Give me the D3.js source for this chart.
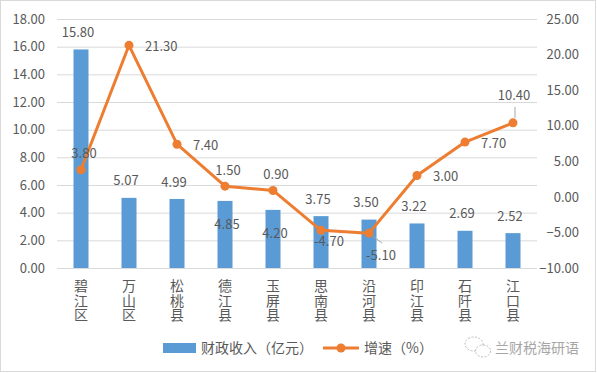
<!DOCTYPE html>
<html>
<head>
<meta charset="utf-8">
<script src="https://cdn.jsdelivr.net/npm/d3@7"></script>
<style>
  body { margin: 0; background: #fff; }
  svg { display: block; font-family: "Noto Sans CJK SC", "Noto Sans", sans-serif; }
</style>
</head>
<body>
<svg id="canvas"></svg>
<script>
//--chart data
const counties = ["碧江区", "万山区", "松桃县", "德江县", "玉屏县", "思南县", "沿河县", "印江县", "石阡县", "江口县"];
const revenue = [15.80, 5.07, 4.99, 4.85, 4.20, 3.75, 3.50, 3.22, 2.69, 2.52];
const growth = [3.80, 21.30, 7.40, 1.50, 0.90, -4.70, -5.10, 3.00, 7.70, 10.40];
const leftTicks = [0, 2, 4, 6, 8, 10, 12, 14, 16, 18];
const rightTicks = [-10, -5, 0, 5, 10, 15, 20, 25];
// where each data label sits
const barLabelPos = ["top", "top", "top", "inside", "inside", "top", "top", "top", "top", "top"];
const lineLabelPos = ["above", "right", "right", "above", "above", "below", "belowRight", "right", "right", "high"];
//--

//--canvas
let width = 597;
let height = 373;
let margin = {top: 19, left: 57, right: 60, bottom: 105};

let canvas = d3.select("#canvas")
canvas.attr("width", width)
canvas.attr("height", height)

const textColor = "#595959";
const barColor = "#5B9BD5";
const lineColor = "#ED7D31";
const gridColor = "#d9d9d9";
//--

let drawChart = () => {
    let x = d3.scaleBand()
                .domain(counties)
                .range([margin.left, width - margin.right]);
    let yLeft = d3.scaleLinear()
                .domain([0, 18])
                .range([height - margin.bottom, margin.top]);
    let yRight = d3.scaleLinear()
                .domain([-10, 25])
                .range([height - margin.bottom, margin.top]);

    //--outer frame
    canvas.append('rect')
            .attr('x', 0.5).attr('y', 0.5)
            .attr('width', width - 2).attr('height', height - 2)
            .attr('fill', 'none')
            .attr('stroke', gridColor);

    //--gridlines + left axis
    let gLeft = canvas.append('g')
            .attr('transform', `translate(${margin.left},0)`)
            .call(d3.axisLeft(yLeft)
                    .tickValues(leftTicks)
                    .tickFormat(d3.format('.2f'))
                    .tickSize(-(width - margin.left - margin.right))
                    .tickPadding(12));
    gLeft.select('.domain').remove();
    gLeft.selectAll('line').attr('stroke', gridColor);
    gLeft.selectAll('text')
            .attr('fill', textColor)
            .attr('font-size', 13)
            .attr('font-family', '"Noto Sans CJK SC", sans-serif');

    //--right axis
    let gRight = canvas.append('g')
            .attr('transform', `translate(${width - margin.right},0)`)
            .call(d3.axisRight(yRight)
                    .tickValues(rightTicks)
                    .tickFormat(d3.format('.2f'))
                    .tickSize(0)
                    .tickPadding(42));
    gRight.select('.domain').remove();
    gRight.selectAll('text')
            .attr('fill', textColor)
            .attr('font-size', 13)
            .attr('text-anchor', 'end')
            .attr('font-family', '"Noto Sans CJK SC", sans-serif');

    //--bars
    let barW = 15;
    canvas.selectAll('rect.bar')
            .data(revenue)
            .enter()
            .append('rect')
            .attr('class', 'bar')
            .attr('x', (d, i) => x(counties[i]) + x.bandwidth() / 2 - barW / 2)
            .attr('width', barW)
            .attr('y', d => yLeft(d))
            .attr('height', d => yLeft(0) - yLeft(d))
            .attr('fill', barColor);

    //--bar labels
    canvas.selectAll('text.barlabel')
            .data(revenue)
            .enter()
            .append('text')
            .attr('class', 'barlabel')
            .attr('x', (d, i) => x(counties[i]) + x.bandwidth() / 2 + (barLabelPos[i] == 'inside' ? 2 : -3))
            .attr('y', (d, i) => barLabelPos[i] == 'inside' ? yLeft(d) + 24 : yLeft(d) - 17)
            .attr('dy', '0.35em')
            .attr('text-anchor', 'middle')
            .attr('fill', textColor)
            .attr('font-size', 13)
            .text(d => d.toFixed(2));

    //--line
    let cx = (i) => x(counties[i]) + x.bandwidth() / 2;
    let line = d3.line()
            .x((d, i) => cx(i))
            .y(d => yRight(d));
    canvas.append('path')
            .datum(growth)
            .attr('d', line)
            .attr('fill', 'none')
            .attr('stroke', lineColor)
            .attr('stroke-width', 3)
            .attr('stroke-linejoin', 'round');

    canvas.selectAll('circle.pt')
            .data(growth)
            .enter()
            .append('circle')
            .attr('class', 'pt')
            .attr('cx', (d, i) => cx(i))
            .attr('cy', d => yRight(d))
            .attr('r', 4.5)
            .attr('fill', lineColor);

    //--leader lines
    growth.forEach((d, i) => {
        if (lineLabelPos[i] == 'high') {
            canvas.append('line')
                    .attr('x1', cx(i) + 2).attr('y1', yRight(d) - 5)
                    .attr('x2', cx(i) + 2).attr('y2', yRight(d) - 16)
                    .attr('stroke', '#a6a6a6');
        } else if (lineLabelPos[i] == 'belowRight') {
            canvas.append('line')
                    .attr('x1', cx(i) + 4).attr('y1', yRight(d) + 3)
                    .attr('x2', cx(i) + 13).attr('y2', yRight(d) + 10)
                    .attr('stroke', '#a6a6a6');
        }
    });

    //--line labels
    let off = {
        above: [3, -16, 'middle'],
        right: [16, 1, 'start'],
        below: [8, 11, 'middle'],
        belowRight: [12, 22, 'middle'],
        high: [1, -27, 'middle']
    };
    canvas.selectAll('text.linelabel')
            .data(growth)
            .enter()
            .append('text')
            .attr('class', 'linelabel')
            .attr('x', (d, i) => cx(i) + off[lineLabelPos[i]][0])
            .attr('y', (d, i) => yRight(d) + off[lineLabelPos[i]][1])
            .attr('dy', '0.35em')
            .attr('text-anchor', (d, i) => off[lineLabelPos[i]][2])
            .attr('fill', textColor)
            .attr('font-size', 13)
            .text(d => d.toFixed(2));

    //--vertical category labels (one text per county, stacked characters)
    canvas.selectAll('text.cat')
            .data(counties)
            .enter()
            .append('text')
            .attr('class', 'cat')
            .attr('x', d => x(d) + x.bandwidth() / 2)
            .attr('y', 279)
            .style('writing-mode', 'vertical-rl')
            .style('letter-spacing', '0.5px')
            .attr('fill', textColor)
            .attr('font-size', 14)
            .text(d => d);

    //--legend
    let lg = canvas.append('g').attr('class', 'legend');
    lg.append('rect')
            .attr('x', 163).attr('y', 343)
            .attr('width', 33).attr('height', 10)
            .attr('fill', barColor);
    lg.append('text')
            .attr('x', 201).attr('y', 348).attr('dy', '0.35em')
            .attr('fill', textColor).attr('font-size', 14)
            .text('财政收入（亿元）');
    lg.append('line')
            .attr('x1', 323).attr('x2', 359)
            .attr('y1', 348).attr('y2', 348)
            .attr('stroke', lineColor).attr('stroke-width', 3);
    lg.append('circle')
            .attr('cx', 341).attr('cy', 348).attr('r', 4.5)
            .attr('fill', lineColor);
    lg.append('text')
            .attr('x', 364).attr('y', 348).attr('dy', '0.35em')
            .attr('fill', textColor).attr('font-size', 14)
            .text('增速（%）');

    //--watermark
    let wm = canvas.append('g').attr('class', 'watermark');
    wm.append('ellipse')
            .attr('cx', 474).attr('cy', 344).attr('rx', 9).attr('ry', 7)
            .attr('fill', 'none').attr('stroke', '#bbb').attr('stroke-dasharray', '2,1.5');
    wm.append('ellipse')
            .attr('cx', 483).attr('cy', 351).attr('rx', 7.5).attr('ry', 6)
            .attr('fill', '#fff').attr('stroke', '#bbb').attr('stroke-dasharray', '2,1.5');
    wm.append('text')
            .attr('x', 495).attr('y', 348).attr('dy', '0.35em')
            .attr('fill', '#a6a6a6').attr('font-size', 14)
            .text('兰财税海研语');
}

drawChart()
</script>
</body>
</html>
